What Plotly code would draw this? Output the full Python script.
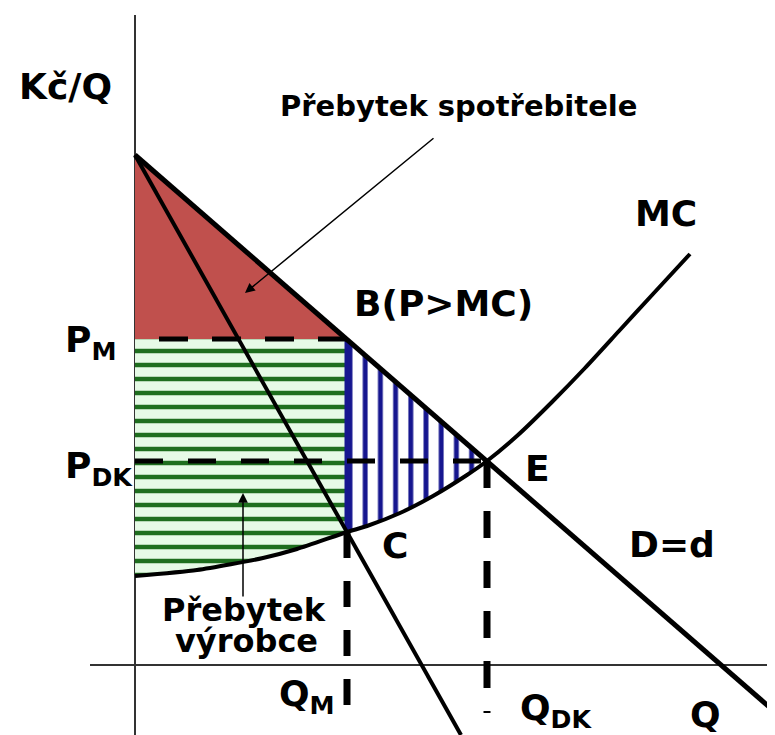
import plotly.graph_objects as go

# quantities / prices (axis origin = 0,0)
q_m = 21.2
q_dk = 35.2
p_m = 32.6
p_dk = 20.4
p_c = 13.3

# demand D=d (straight line)
demand_q = [0.0, 21.2, 35.2, 64.0]
demand_p = [51.0, 32.6, 20.4, -4.7]

# marginal revenue line
mr_q = [0.0, 21.2, 32.6]
mr_p = [51.0, 13.3, -7.0]

# marginal cost curve
mc_q = [0.0, 6.2, 12.8, 16.2, 21.2, 23.2, 26.5, 29.8, 33.2, 35.2, 38.3, 41.7, 45.0, 48.4, 51.8, 55.5]
mc_p = [8.9, 9.5, 10.7, 11.6, 13.3, 13.9, 15.2, 16.9, 19.0, 20.4, 23.0, 26.3, 29.7, 33.4, 37.1, 41.1]

FONT = "DejaVu Sans"
BLACK = "black"
RED = "#c0504d"
GREEN = "#1e6e1e"
GREEN_BG = "#e6fae6"
BLUE = "#16168f"

fig = go.Figure()

# axes
fig.add_trace(go.Scatter(x=[0, 0], y=[-7.0, 65.0], mode="lines",
                         line=dict(color="#333333", width=2)))
fig.add_trace(go.Scatter(x=[-4.5, 64.0], y=[0, 0], mode="lines",
                         line=dict(color="#333333", width=2)))

# consumer surplus (red triangle)
fig.add_trace(go.Scatter(x=[0, q_m, 0], y=[demand_p[0], p_m, p_m], mode="lines",
                         fill="toself", fillcolor=RED, line=dict(width=0)))

# producer surplus (green, horizontal hatch)
low = [(q, p) for q, p in zip(mc_q, mc_p) if q <= q_m]
gx = [0, q_m] + [q for q, p in reversed(low)]
gy = [p_m, p_m] + [p for q, p in reversed(low)]
fig.add_trace(go.Scatter(x=gx, y=gy, mode="lines", fill="toself", fillcolor=GREEN_BG,
                         fillpattern=dict(shape="-", size=14.0, solidity=0.32,
                                          fgcolor=GREEN, bgcolor=GREEN_BG, fillmode="replace"),
                         line=dict(width=0)))

# deadweight loss (blue, vertical hatch)
mid = [(q, p) for q, p in zip(mc_q, mc_p) if q_m <= q <= q_dk]
bx = [q_m, q_dk] + [q for q, p in reversed(mid)]
by = [p_m, p_dk] + [p for q, p in reversed(mid)]
fig.add_trace(go.Scatter(x=bx, y=by, mode="lines", fill="toself", fillcolor="white",
                         fillpattern=dict(shape="|", size=15.2, solidity=0.32,
                                          fgcolor=BLUE, bgcolor="white", fillmode="replace"),
                         line=dict(width=0)))
fig.add_trace(go.Scatter(x=[q_m, q_m], y=[p_m, p_c], mode="lines",
                         line=dict(color=BLUE, width=5)))

# dashed guide lines
fig.add_trace(go.Scatter(x=[q_m, 0], y=[p_m, p_m], mode="lines",
                         line=dict(color=BLACK, width=5, dash="29px,24px")))
fig.add_trace(go.Scatter(x=[0, q_dk], y=[p_dk, p_dk], mode="lines",
                         line=dict(color=BLACK, width=5, dash="28px,25px")))
fig.add_trace(go.Scatter(x=[q_m, q_m], y=[p_c, -4.2], mode="lines",
                         line=dict(color=BLACK, width=7, dash="26px,23px")))
fig.add_trace(go.Scatter(x=[q_dk, q_dk], y=[p_dk, -4.8], mode="lines",
                         line=dict(color=BLACK, width=7, dash="27px,23px")))

# curves
fig.add_trace(go.Scatter(x=mc_q, y=mc_p, mode="lines",
                         line=dict(color=BLACK, width=4, shape="spline", smoothing=0.6)))
fig.add_trace(go.Scatter(x=mr_q, y=mr_p, mode="lines", line=dict(color=BLACK, width=4)))
fig.add_trace(go.Scatter(x=demand_q, y=demand_p, mode="lines", line=dict(color=BLACK, width=5)))

labels = [
    ("Kč/Q", -11.8, 57.9, 36),
    ("Přebytek spotřebitele", 14.3, 55.9, 29),
    ("MC", 49.8, 45.2, 36),
    ("B(P>MC)", 21.7, 36.2, 36),
    ("P<sub>M</sub>", -7.2, 32.3, 36),
    ("P<sub>DK</sub>", -7.2, 19.7, 36),
    ("E", 38.8, 19.7, 36),
    ("C", 24.5, 12.0, 36),
    ("D=d", 49.2, 12.1, 36),
    ("Přebytek", 2.5, 5.5, 32),
    ("výrobce", 3.8, 2.4, 32),
    ("Q<sub>M</sub>", 14.2, -3.1, 36),
    ("Q<sub>DK</sub>", 38.3, -4.5, 36),
    ("Q", 55.3, -4.9, 36),
]
for text, x, y, size in labels:
    fig.add_annotation(x=x, y=y, text=text, showarrow=False, xanchor="left", yanchor="middle",
                       font=dict(family=FONT, size=size, color=BLACK, weight="bold"))

# pointer arrows
fig.add_annotation(x=11.0, y=37.2, ax=30.0, ay=52.8, xref="x", yref="y", axref="x", ayref="y",
                   text="", showarrow=True, arrowhead=2, arrowsize=1.3, arrowwidth=1.5,
                   arrowcolor=BLACK)
fig.add_annotation(x=10.8, y=17.2, ax=10.8, ay=6.7, xref="x", yref="y", axref="x", ayref="y",
                   text="", showarrow=True, arrowhead=2, arrowsize=1.3, arrowwidth=1.5,
                   arrowcolor=BLACK)

# the page puts the figure 8px in from the top-left corner
fig.update_layout(
    width=767, height=727,
    margin=dict(l=0, r=0, t=0, b=0),
    paper_bgcolor="white", plot_bgcolor="white",
    showlegend=False,
    xaxis=dict(range=[-12.7, 64.0], visible=False, fixedrange=True),
    yaxis=dict(range=[-7.0, 65.7], visible=False, fixedrange=True),
)

fig.write_html("out.html")
